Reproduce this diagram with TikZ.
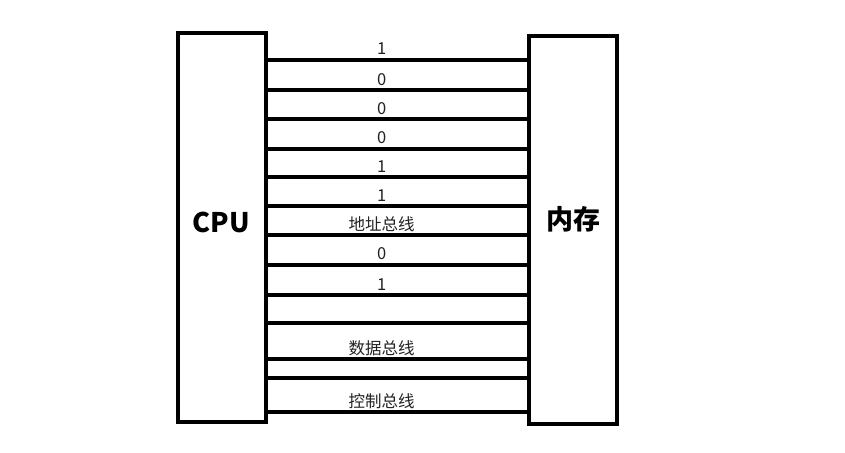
\documentclass[tikz,border=0pt]{standalone}
\usepackage{fontspec}
\setmainfont{Noto Sans CJK SC}
\usepackage{xcolor}
\usepackage{tikz}
\usetikzlibrary{positioning}
\definecolor{BusLine}{HTML}{000000}
\definecolor{BusText}{HTML}{222222}

\begin{document}
\begin{tikzpicture}[x=1pt,y=-1pt,
  unit/.style={draw=BusLine,line width=4pt,inner sep=0pt,minimum width=88pt,minimum height=388pt},
  unittext/.style={font=\fontsize{27}{30}\selectfont\bfseries,inner sep=0pt},
  wire/.style={draw=BusLine,line width=4pt},
  bit/.style={text=BusText,font=\fontsize{16.5}{19}\selectfont,anchor=base,yshift=5pt,inner sep=0pt}]
\useasboundingbox (0,0) rectangle (845,452);
\node[unit,label={[unittext,yshift=5pt]center:CPU}] (cpu) at (221.5,227.5) {};
\node[unit,label={[unittext,yshift=11pt]center:内存}] (mem) at (573,230) {};
\foreach \y/\txt in {60/1,90/0,119/0,148.5/0,177/1,206/1,235/地址总线,264.5/0,295/1,323/{},359/数据总线,377.5/{},412/控制总线}
  \draw[wire] (cpu.east |- 0,\y) -- (mem.west |- 0,\y) node[bit,pos=.44] {\txt};
\end{tikzpicture}
\end{document}
